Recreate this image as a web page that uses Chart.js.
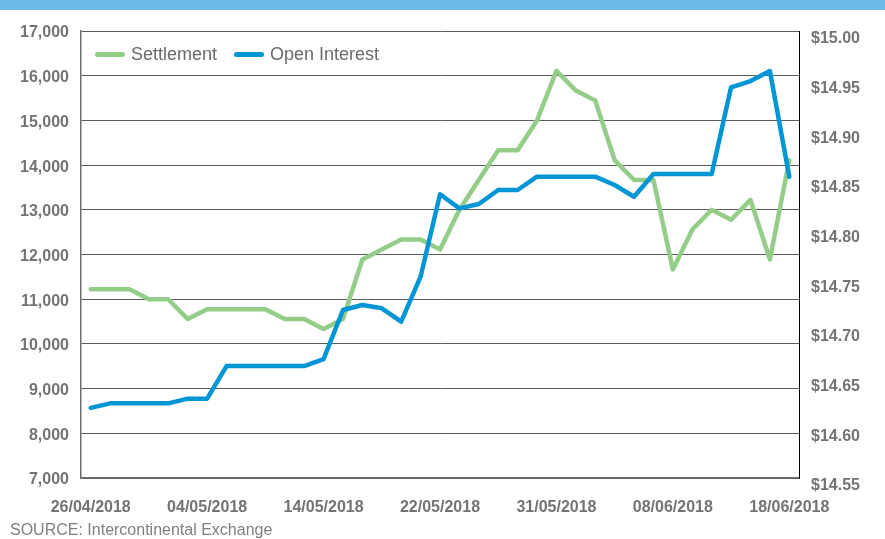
<!DOCTYPE html>
<html>
<head>
<meta charset="utf-8">
<script src="https://cdn.jsdelivr.net/npm/chart.js@4/dist/chart.umd.min.js"></script>
<style>
  body { margin: 0; background: #fff; font-family: "Liberation Sans", Arial, sans-serif; }
  #wrap { position: relative; width: 885px; height: 539px; }
  #banner { position: absolute; left: 0; top: 0; width: 885px; height: 10px; background: #6bbbe6; }
  #legend { position: absolute; left: 95px; top: 44px; display: flex; align-items: center; font-size: 18px; color: #6a6a6a; }
  #legend .item { display: flex; align-items: center; margin-right: 17px; }
  #legend .swatch { width: 30px; height: 5px; border-radius: 3px; margin-right: 6px; }
  #source { position: absolute; left: 10px; top: 521px; font-size: 16px; color: #7f7f7f; }
</style>
</head>
<body>
<div id="wrap">
  <canvas id="chart"></canvas>
  <div id="banner"></div>
  <div id="legend"></div>
  <div id="source">SOURCE: Intercontinental Exchange</div>
</div>
<script>
const dates = [
  '26/04/2018', '27/04/2018', '30/04/2018', '01/05/2018', '02/05/2018', '03/05/2018',
  '04/05/2018', '07/05/2018', '08/05/2018', '09/05/2018', '10/05/2018', '11/05/2018',
  '14/05/2018', '15/05/2018', '16/05/2018', '17/05/2018', '18/05/2018', '21/05/2018',
  '22/05/2018', '23/05/2018', '24/05/2018', '25/05/2018', '29/05/2018', '30/05/2018',
  '31/05/2018', '01/06/2018', '04/06/2018', '05/06/2018', '06/06/2018', '07/06/2018',
  '08/06/2018', '11/06/2018', '12/06/2018', '13/06/2018', '14/06/2018', '15/06/2018',
  '18/06/2018'
];

const settlement = [
  14.74, 14.74, 14.74, 14.73, 14.73, 14.71, 14.72, 14.72, 14.72, 14.72, 14.71, 14.71,
  14.70, 14.71, 14.77, 14.78, 14.79, 14.79, 14.78, 14.82, 14.85, 14.88, 14.88, 14.91,
  14.96, 14.94, 14.93, 14.87, 14.85, 14.85, 14.76, 14.80, 14.82, 14.81, 14.83, 14.77,
  14.87
];

const openInterest = [
  8570, 8670, 8670, 8670, 8670, 8775, 8775, 9505, 9505, 9505, 9505, 9505,
  9660, 10758, 10870, 10796, 10497, 11504, 13347, 13033, 13130, 13443, 13443, 13741,
  13741, 13741, 13741, 13555, 13293, 13800, 13800, 13800, 13800, 15740, 15881, 16105,
  13740
];

const leftTicks = { min: 7000, max: 17000, step: 1000 };
const rightTicks = { min: 14.55, max: 15.00, step: 0.05 };

const green = '#93cd88';
const blue = '#0096d6';
const tickColor = '#737373';

let datasets = [
  {
    label: 'Settlement',
    data: settlement,
    yAxisID: 'y2',
    borderColor: green,
    backgroundColor: green,
    order: 1
  },
  {
    label: 'Open Interest',
    data: openInterest,
    yAxisID: 'y',
    borderColor: blue,
    backgroundColor: blue,
    order: 0
  }
];

datasets.forEach(function (ds) {
  ds.borderWidth = 4.5;
  ds.pointRadius = 0;
  ds.tension = 0;
  ds.borderJoinStyle = 'round';
  ds.borderCapStyle = 'round';
});

// legend as html
let legend = document.getElementById('legend');
datasets.forEach(function (ds) {
  let item = document.createElement('div');
  item.className = 'item';
  item.innerHTML = '<span class="swatch" style="background:' + ds.borderColor + '"></span>' + ds.label;
  legend.appendChild(item);
});

const tickFont = { family: '"Liberation Sans", Arial, sans-serif', size: 16, weight: 'bold' };

let ctx = document.getElementById('chart').getContext('2d');
let chart = new Chart(ctx, {
  type: 'line',
  data: { labels: dates, datasets: datasets },
  options: {
    responsive: true,
    maintainAspectRatio: false,
    animation: false,
    layout: { padding: { top: 31, left: 0, right: 0, bottom: 0 } },
    plugins: {
      legend: { display: false },
      tooltip: { enabled: false }
    },
    scales: {
      x: {
        offset: true,
        grid: { display: false, drawTicks: false },
        border: { color: '#6e6e6e', width: 1.5 },
        ticks: {
          autoSkip: false,
          maxRotation: 0,
          padding: 20,
          color: tickColor,
          font: tickFont,
          callback: function (value, index) {
            return index % 6 === 0 ? dates[index] : '';
          }
        },
        afterFit: function (scale) { scale.height = 61; }
      },
      y: {
        position: 'left',
        min: leftTicks.min,
        max: leftTicks.max,
        grid: { color: '#5c5c5c', lineWidth: 1, drawTicks: false },
        border: { color: '#6e6e6e', width: 1.5 },
        ticks: {
          stepSize: leftTicks.step,
          padding: 12,
          labelOffset: 2,
          color: tickColor,
          font: tickFont,
          callback: function (v) { return v.toLocaleString('en-US'); }
        },
        afterFit: function (scale) { scale.width = 81; }
      },
      y2: {
        position: 'right',
        min: rightTicks.min,
        max: rightTicks.max,
        grid: { display: false, drawTicks: false },
        border: { color: '#000000', width: 1 },
        ticks: {
          stepSize: rightTicks.step,
          padding: 12,
          labelOffset: 8,
          color: tickColor,
          font: tickFont,
          callback: function (v) { return '$' + v.toFixed(2); }
        },
        afterFit: function (scale) { scale.width = 86; }
      }
    }
  }
});
</script>
</body>
</html>
